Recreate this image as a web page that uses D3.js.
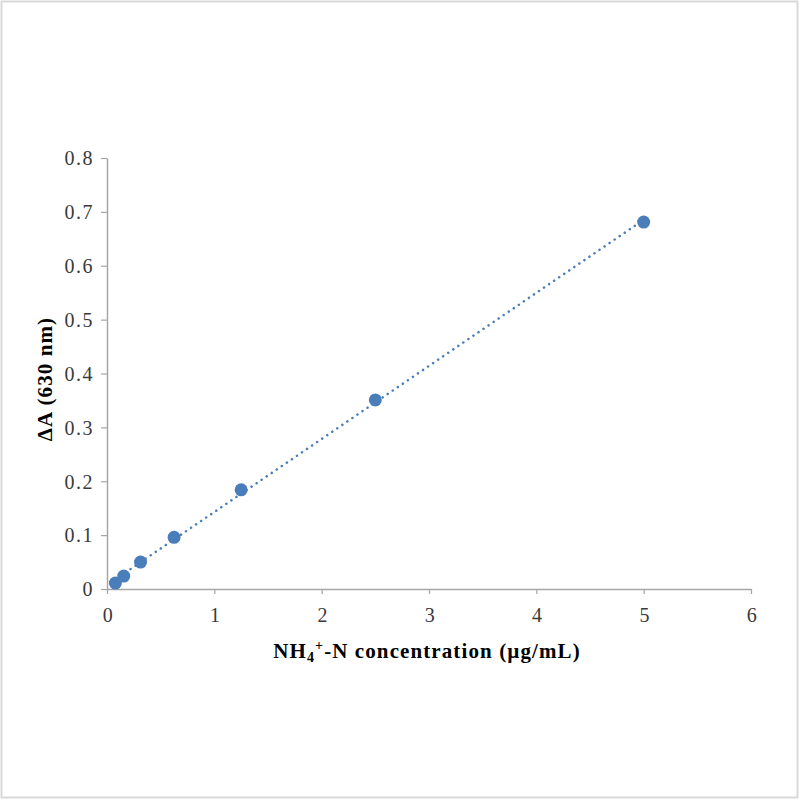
<!DOCTYPE html>
<html>
<head>
<meta charset="utf-8">
<script src="https://cdn.jsdelivr.net/npm/d3@7"></script>
<style>
  body { margin: 0; background: #fff; }
  svg { display: block; }
</style>
</head>
<body>
<svg></svg>
<script>
var width = 800,
    height = 800;

// data
var concentration = [0.078, 0.156, 0.3125, 0.625, 1.25, 2.5, 5];
var absorbance = [0.011, 0.024, 0.050, 0.096, 0.184, 0.351, 0.681];
var xTicks = [0, 1, 2, 3, 4, 5, 6];
var yTicks = [0, 0.1, 0.2, 0.3, 0.4, 0.5, 0.6, 0.7, 0.8];

var margin = {left: 107, right: 49, top: 158, bottom: 211};

var svg = d3.select("svg")
    .attr("width", width)
    .attr("height", height);

// outer frame
svg.append("rect")
    .attr("x", 1.5)
    .attr("y", 1.5)
    .attr("width", width - 4)
    .attr("height", height - 4)
    .attr("fill", "#fff")
    .attr("stroke", "#d9d9d9")
    .attr("stroke-width", 2);

var x = d3.scaleLinear()
    .domain([0, 6])
    .range([margin.left, width - margin.right]);

var y = d3.scaleLinear()
    .domain([0, 0.8])
    .range([height - margin.bottom, margin.top]);

var font = "'Liberation Serif', 'Times New Roman', serif";

////////////////////////
// axes
////////////////////////

var xAxis = svg.append("g")
    .attr("transform", "translate(0," + y(0) + ")")
    .call(d3.axisBottom(x).tickValues(xTicks).tickSize(5).tickSizeOuter(0).tickFormat(d3.format("d")));

var yAxis = svg.append("g")
    .attr("transform", "translate(" + x(0) + ",0)")
    .call(d3.axisLeft(y).tickValues(yTicks).tickSize(6).tickSizeOuter(0)
        .tickFormat(function(d) { return d === 0 ? "0" : d3.format(".1f")(d); }));

[xAxis, yAxis].forEach(function(a) {
    a.select(".domain").attr("stroke", "#a6a6a6").attr("stroke-width", 1.5);
    a.selectAll(".tick line").attr("stroke", "#a6a6a6").attr("stroke-width", 1.2);
    a.selectAll(".tick text")
        .attr("fill", "#3a3a3a")
        .style("font-family", font)
        .style("font-size", "20px")
        .style("letter-spacing", "1.5px");
});
xAxis.selectAll(".tick text").attr("y", 33).attr("dy", 0).attr("dx", 1);
yAxis.selectAll(".tick text").attr("x", -13).attr("dy", "0.34em");

////////////////////////
// trendline (least squares fit of the points)
////////////////////////

var mx = d3.mean(concentration),
    my = d3.mean(absorbance);
var slope = d3.sum(concentration, function(d, i) { return (d - mx) * (absorbance[i] - my); }) /
    d3.sum(concentration, function(d) { return (d - mx) * (d - mx); });
var intercept = my - slope * mx;
var xExtent = d3.extent(concentration);

svg.append("line")
    .attr("x1", x(xExtent[0]))
    .attr("y1", y(slope * xExtent[0] + intercept))
    .attr("x2", x(xExtent[1]))
    .attr("y2", y(slope * xExtent[1] + intercept))
    .attr("stroke", "#4a7ebb")
    .attr("stroke-width", 2.5)
    .attr("stroke-linecap", "round")
    .attr("stroke-dasharray", "0.1 6");

////////////////////////
// points
////////////////////////

svg.selectAll(".point")
    .data(concentration)
    .enter()
    .append("circle")
    .attr("class", "point")
    .attr("cx", function(d) { return x(d); })
    .attr("cy", function(d, i) { return y(absorbance[i]); })
    .attr("r", 6.5)
    .attr("fill", "#4a7ebb");

////////////////////////
// labels
////////////////////////

var xLabel = svg.append("text")
    .attr("x", 427)
    .attr("y", 658)
    .attr("text-anchor", "middle")
    .attr("fill", "#000")
    .style("font-family", font)
    .style("font-size", "21px")
    .style("font-weight", "bold")
    .style("letter-spacing", "1.1px");
xLabel.append("tspan").text("NH");
xLabel.append("tspan").attr("dy", 4).style("font-size", "14px").text("4");
xLabel.append("tspan").attr("dy", -12).style("font-size", "14px").text("+");
xLabel.append("tspan").attr("dy", 8).text("-N concentration (\u00b5g/mL)");

svg.append("text")
    .attr("transform", "translate(52,379) rotate(-90)")
    .attr("text-anchor", "middle")
    .attr("fill", "#000")
    .style("font-family", font)
    .style("font-size", "21px")
    .style("font-weight", "bold")
    .style("letter-spacing", "1.1px")
    .text("\u0394A (630 nm)");
</script>
</body>
</html>
